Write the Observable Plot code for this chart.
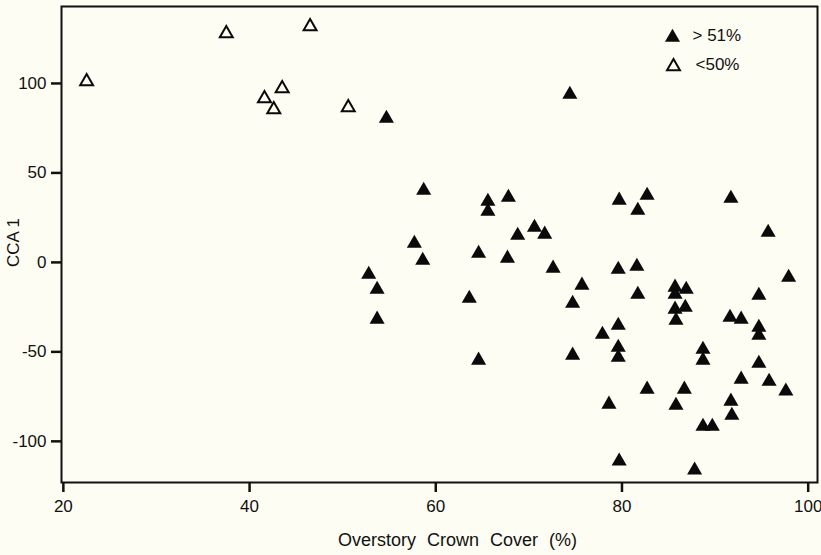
<!DOCTYPE html>
<html>
<head>
<meta charset="utf-8">
<script src="https://cdn.jsdelivr.net/npm/d3@7"></script>
<script src="https://cdn.jsdelivr.net/npm/@observablehq/plot@0.6"></script>
<style>
  html, body { margin: 0; padding: 0; background: #fdfdf3; }
  #chart { width: 821px; height: 555px; }
</style>
</head>
<body>
<div id="chart"></div>
<script>
// Overstory crown cover (%) and CCA 1 scores, stands with > 51% cover (filled)
const coverHigh = [54.7, 74.4, 58.7, 65.6, 65.6, 67.8, 79.7, 82.7, 81.7, 91.7,
  95.7, 57.7, 58.6, 68.8, 70.6, 71.7, 64.6, 67.7, 72.6, 79.6,
  81.6, 97.9, 75.7, 63.6, 74.7, 81.7, 85.7, 86.9, 85.7, 85.7,
  86.8, 85.8, 94.7, 91.6, 92.8, 94.7, 94.7, 77.9, 79.6, 79.6,
  79.6, 64.6, 74.7, 88.7, 88.7, 94.7, 92.8, 95.8, 97.6, 82.7,
  86.7, 78.6, 85.8, 91.7, 91.8, 88.7, 89.7, 79.7, 87.8, 52.8,
  53.7, 53.7];
const ccaHigh = [81.6, 95, 41.3, 35.2, 29.6, 37.4, 35.8, 38.5, 30.2, 36.9,
  17.9, 11.7, 2.2, 16.2, 20.7, 16.8, 6.1, 3.4, -2.2, -2.8,
  -1.1, -7.3, -11.7, -19, -21.8, -16.8, -12.8, -14, -16.8, -25.1,
  -24, -31.3, -17.3, -29.6, -30.7, -35.2, -39.7, -39.1, -34.1, -46.4,
  -52, -53.6, -50.8, -47.5, -53.6, -55.3, -64.2, -65.4, -70.9, -69.8,
  -69.8, -78.2, -78.8, -76.5, -84.4, -90.5, -90.5, -110, -115, -5.6,
  -14, -30.7];
// stands with < 50% cover (open)
const coverLow = [22.5, 37.5, 46.5, 41.6, 42.6, 43.5, 50.6];
const ccaLow = [102.2, 129, 133, 92.7, 86.6, 98.3, 87.7];

const xTicks = [20, 40, 60, 80, 100];
const yTicks = [-100, -50, 0, 50, 100];
const legendLabels = ["> 51%", "<50%"];
const xTitle = "Overstory Crown Cover (%)";
const yTitle = "CCA 1";

const high = coverHigh.map((c, i) => ({cover: c, cca: ccaHigh[i]}));
const low = coverLow.map((c, i) => ({cover: c, cca: ccaLow[i]}));

const bg = "#fdfdf3";
const ink = "#0a0a0a";
const font = "'Liberation Sans', Arial, Helvetica, sans-serif";

const chart = Plot.plot({
  width: 821,
  height: 555,
  marginLeft: 61,
  marginRight: 4,
  marginTop: 6,
  marginBottom: 73,
  style: {background: bg, fontFamily: font, fontSize: "17px", color: "#111"},
  x: {domain: [19.8, 101]},
  y: {domain: [-123, 143]},
  marks: [
    Plot.frame({stroke: "#111", strokeWidth: 2}),
    Plot.axisX({ticks: xTicks, tickSize: 10, tickPadding: 7, strokeWidth: 2.5, line: true, label: null, fontSize: 17, tickFormat: d => String(d)}),
    Plot.axisY({ticks: yTicks, tickSize: 10, tickPadding: 5, strokeWidth: 2.5, line: true, label: null, fontSize: 17, tickFormat: d => String(d)}),
    Plot.text([xTitle], {text: d => d, frameAnchor: "bottom", dy: 58, dx: 18, textAnchor: "middle", lineAnchor: "middle", fontSize: 18, fill: "#111"}),
    Plot.text([yTitle], {text: d => d, frameAnchor: "left", rotate: -90, dx: -48, dy: -2, textAnchor: "middle", lineAnchor: "middle", fontSize: 17, fill: "#111"}),
    Plot.dot(high, {x: "cover", y: "cca", symbol: "triangle", fill: ink, r: 5.6, dy: 2}),
    Plot.dot(low, {x: "cover", y: "cca", symbol: "triangle", fill: bg, stroke: ink, strokeWidth: 2, r: 4.8, dy: 2}),
    Plot.dot([legendLabels[0]], {frameAnchor: "top-right", dx: -145, dy: 31, symbol: "triangle", fill: ink, r: 5.6}),
    Plot.dot([legendLabels[1]], {frameAnchor: "top-right", dx: -144, dy: 60, symbol: "triangle", fill: bg, stroke: ink, strokeWidth: 2, r: 4.8}),
    Plot.text([legendLabels[0]], {text: d => d, frameAnchor: "top-right", dx: -125, dy: 29, textAnchor: "start", lineAnchor: "middle", fontSize: 17, fill: "#111"}),
    Plot.text([legendLabels[1]], {text: d => d, frameAnchor: "top-right", dx: -122, dy: 58, textAnchor: "start", lineAnchor: "middle", fontSize: 17, fill: "#111"})
  ]
});
d3.select(chart).selectAll("text").filter(function() { return this.textContent === xTitle; })
  .style("word-spacing", "6px");
document.getElementById("chart").append(chart);
</script>
</body>
</html>
